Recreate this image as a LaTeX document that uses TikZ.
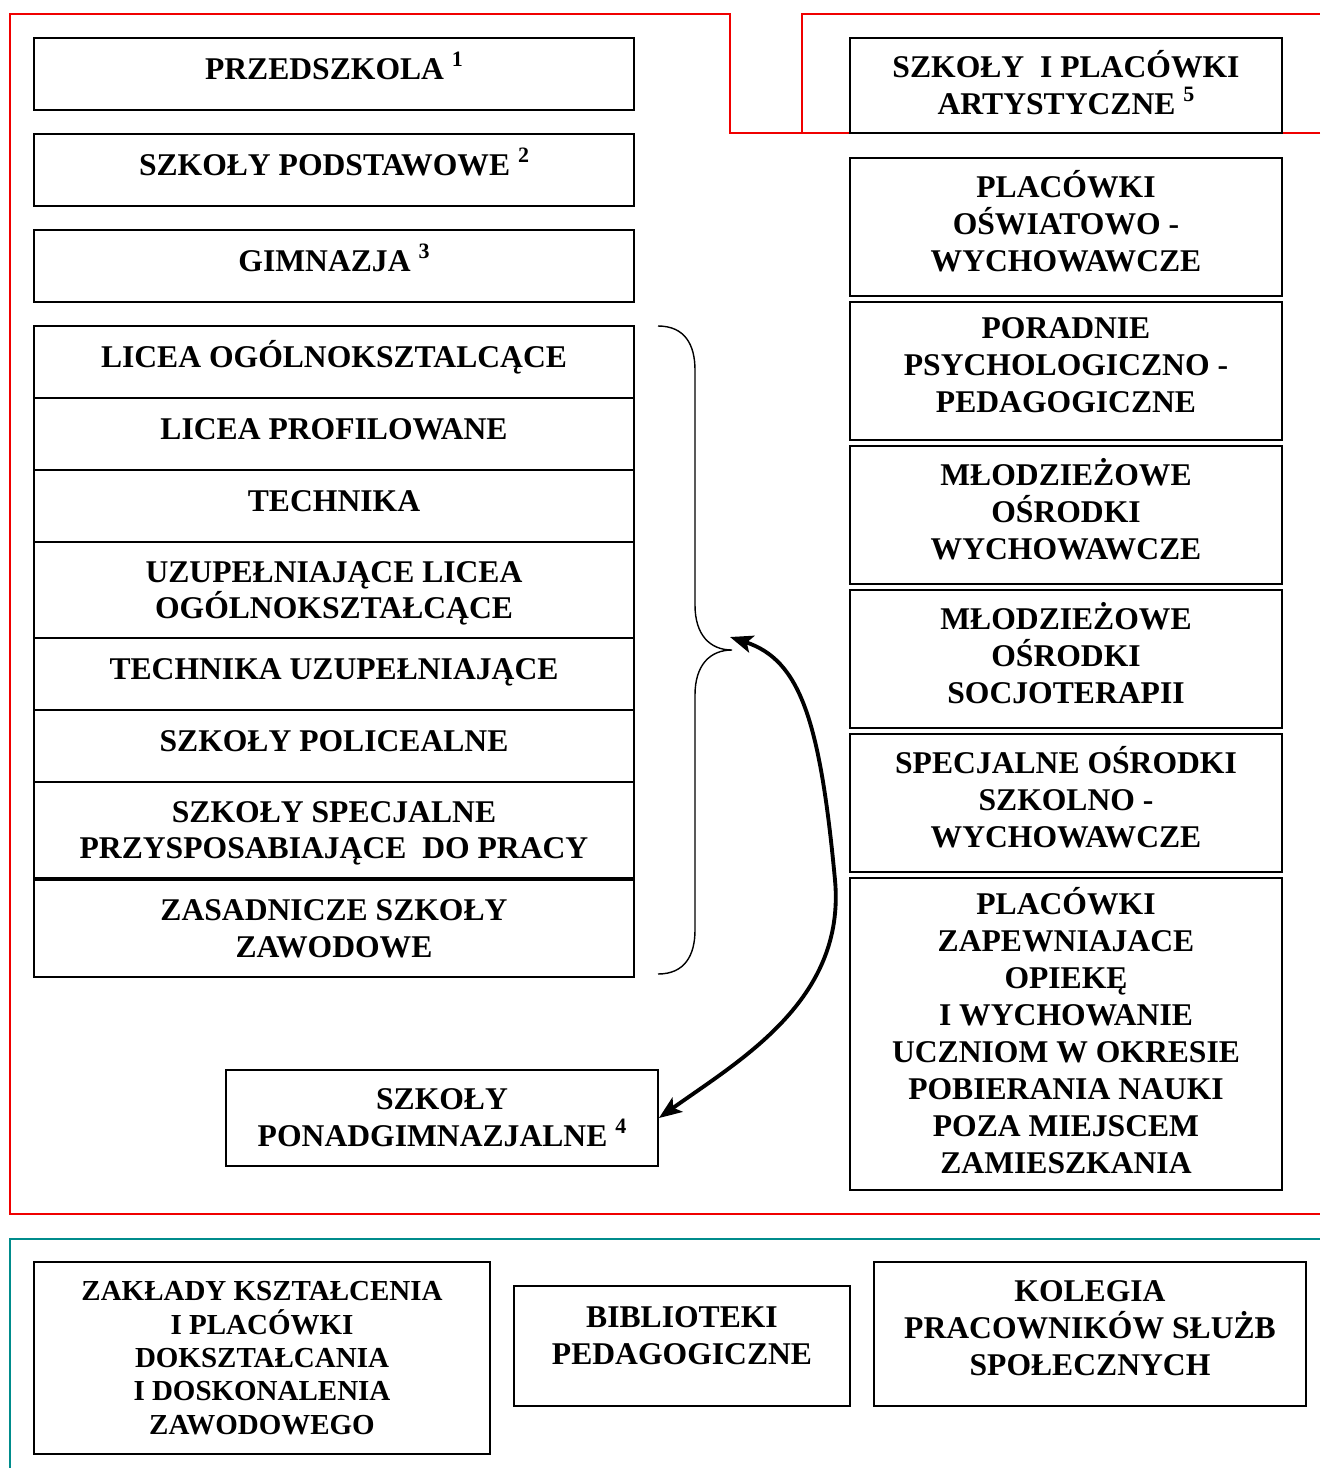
\documentclass[tikz,border=0pt]{standalone}
\usepackage{fontspec}
\setmainfont{Liberation Serif}
\usetikzlibrary{arrows.meta}
\definecolor{frame1}{RGB}{240,0,0}
\definecolor{frame2}{RGB}{0,140,140}
\newcommand{\fnum}[1]{\raisebox{7.5pt}{\fontsize{12.5}{12.5}\selectfont #1}}
\tikzstyle{block} = [rectangle, draw, text centered, line width=1.1pt, inner sep=0pt, font=\bfseries\fontsize{18}{21}\selectfont]
\tikzstyle{one} = [text height=12pt, text depth=6pt]
\tikzstyle{lcol} = [minimum width=12cm, minimum height=1.44cm]
\tikzstyle{rcol} = [minimum width=8.64cm, minimum height=2.76cm, text depth=7pt]

\begin{document}
\begin{tikzpicture}[align=center, x=0.02cm, y=-0.02cm]
\useasboundingbox (0,0) rectangle (1320,1468);

% frames
\draw [frame1, line width=1.2pt] (1320,133) -- (730,133) -- (730,14) -- (10,14) -- (10,1214) -- (1320,1214);
\draw [frame1, line width=1.2pt] (802,133) -- (802,14) -- (1320,14);
\draw [frame2, line width=1.2pt] (10,1468) -- (10,1239) -- (1320,1239);

% left column
\node[block, lcol, one] (przedszkola) at (334,74) {PRZEDSZKOLA \fnum{1}};
\node[block, lcol, one] (podstawowe) at (334,170) {SZKOŁY PODSTAWOWE \fnum{2}};
\node[block, lcol, one] (gimnazja) at (334,266) {GIMNAZJA \fnum{3}};
\node[block, lcol, one] (licea) at (334,362) {LICEA OGÓLNOKSZTALCĄCE};
\node[block, lcol, one] (profil) at (334,434) {LICEA PROFILOWANE};
\node[block, lcol, one] (technika) at (334,506) {TECHNIKA};
\node[block, lcol, minimum height=1.92cm, text depth=0pt] (uzlicea) at (334,590) {UZUPEŁNIAJĄCE LICEA \\ OGÓLNOKSZTAŁCĄCE};
\node[block, lcol, one] (uztech) at (334,674) {TECHNIKA UZUPEŁNIAJĄCE};
\node[block, lcol, one] (policealne) at (334,746) {SZKOŁY POLICEALNE};
\node[block, lcol, minimum height=1.92cm, text depth=0pt] (specjalne) at (334,830) {SZKOŁY SPECJALNE \\ PRZYSPOSABIAJĄCE\ \ DO PRACY};
\node[block, lcol, minimum height=1.94cm] (zasadnicze) at (334,928.5) {ZASADNICZE SZKOŁY \\ ZAWODOWE};
\node[block, minimum width=8.64cm, minimum height=1.92cm] (ponad) at (442,1118) {SZKOŁY \\ PONADGIMNAZJALNE \fnum{4}};

% right column
\node[block, rcol, minimum height=1.9cm, text depth=3pt] (artyst) at (1066,85.5) {SZKOŁY\ \ I PLACÓWKI \\ ARTYSTYCZNE \fnum{5}};
\node[block, rcol] (oswiat) at (1066,227) {PLACÓWKI \\ OŚWIATOWO - \\ WYCHOWAWCZE};
\node[block, rcol] (poradnie) at (1066,371) {PORADNIE \\ PSYCHOLOGICZNO - \\ PEDAGOGICZNE};
\node[block, rcol] (mow) at (1066,515) {MŁODZIEŻOWE \\ OŚRODKI \\ WYCHOWAWCZE};
\node[block, rcol] (mos) at (1066,659) {MŁODZIEŻOWE \\ OŚRODKI \\ SOCJOTERAPII};
\node[block, rcol] (sosw) at (1066,803) {SPECJALNE OŚRODKI \\ SZKOLNO - \\ WYCHOWAWCZE};
\node[block, rcol, minimum height=6.24cm, text depth=4pt] (opieka) at (1066,1034) {PLACÓWKI \\ ZAPEWNIAJACE \\ OPIEKĘ \\ I WYCHOWANIE \\ UCZNIOM W OKRESIE \\ POBIERANIA NAUKI \\ POZA MIEJSCEM \\ ZAMIESZKANIA};

% bottom row
\node[block, minimum width=9.12cm, minimum height=3.84cm, font=\bfseries\fontsize{16.5}{19}\selectfont] (zaklady) at (262,1358) {ZAKŁADY KSZTAŁCENIA \\ I PLACÓWKI \\ DOKSZTAŁCANIA \\ I DOSKONALENIA \\ ZAWODOWEGO};
\node[block, minimum width=6.72cm, minimum height=2.4cm, text depth=12pt] (biblioteki) at (682,1346) {BIBLIOTEKI \\ PEDAGOGICZNE};
\node[block, minimum width=8.64cm, minimum height=2.88cm, text depth=7pt] (kolegia) at (1090,1334) {KOLEGIA \\ PRACOWNIKÓW SŁUŻB \\ SPOŁECZNYCH};

% brace and arrow
\coordinate (bracetop) at (658,326);
\coordinate (bracebot) at (658,974);
\coordinate (tip) at (730,637);
\draw [line width=0.8pt] (bracetop) .. controls (685,326) and (695,345) .. (695,370) -- (695,605)
  .. controls (695,635) and (710,650) .. (732,650) .. controls (710,650) and (695,665) .. (695,695)
  -- (695,930) .. controls (695,955) and (685,974) .. (bracebot);
\draw [{Stealth[length=13pt, width=10pt, inset=3pt]}-{Stealth[length=13pt, width=10pt, inset=3pt]}, line width=2.2pt]
  (tip) .. controls (800,660) and (820,720) .. (835,880) .. controls (846,1000) and (740,1060) .. (ponad.east);

\end{tikzpicture}
\end{document}
